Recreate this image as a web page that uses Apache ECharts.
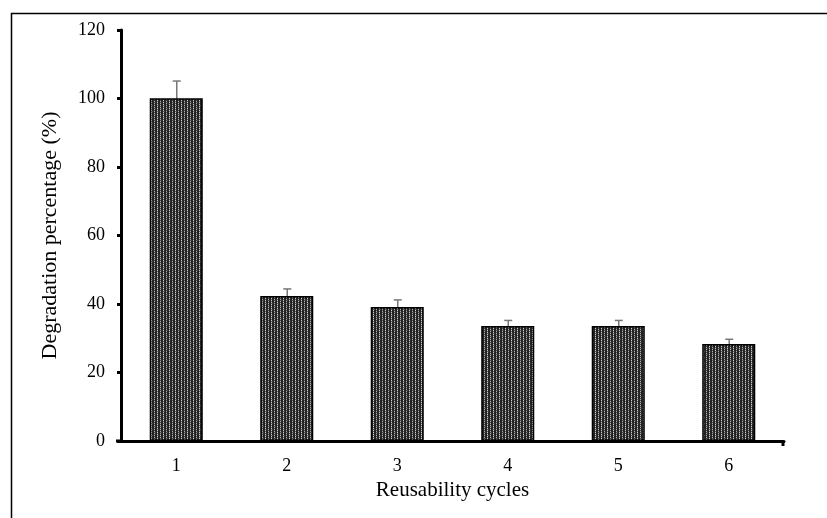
<!DOCTYPE html>
<html>
<head>
<meta charset="utf-8">
<script src="https://cdn.jsdelivr.net/npm/echarts@6/dist/echarts.min.js"></script>
<style>html,body{margin:0;padding:0;background:#fff}#c{width:827px;height:518px}</style>
</head>
<body>
<div id="c"></div>
<script>
var categories = ['1', '2', '3', '4', '5', '6'];
var values = [100.1, 42.3, 39.1, 33.6, 33.6, 28.3];
var errors = [5.0, 2.1, 2.1, 1.6, 1.6, 1.4];
var yTicks = [0, 20, 40, 60, 80, 100, 120];

function makePattern() {
  var c = document.createElement('canvas');
  c.width = 6; c.height = 6;
  var g = c.getContext('2d');
  g.fillStyle = '#222';
  g.fillRect(0, 0, 6, 6);
  for (var y = 0; y < 6; y++) {
    g.fillStyle = (y % 2 === 0) ? '#cfcfcf' : '#5a5a5a';
    g.fillRect(1, y, 1, 1);
    g.fillStyle = (y % 2 === 1) ? '#b0b0b0' : '#4a4a4a';
    g.fillRect(4, y, 1, 1);
  }
  g.fillStyle = '#444';
  g.fillRect(2, 3, 1, 1);
  g.fillRect(5, 0, 1, 1);
  return c;
}

var chart = echarts.init(document.getElementById('c'));
var font = 'Liberation Serif';
chart.setOption({
  animation: false,
  grid: { left: 121, right: 43, top: 30, bottom: 77 },
  xAxis: {
    type: 'category',
    data: categories,
    name: 'Reusability cycles',
    nameLocation: 'middle',
    nameGap: 39,
    nameTextStyle: { fontFamily: font, fontSize: 21, color: '#000' },
    axisLine: { lineStyle: { color: '#000', width: 3 } },
    axisTick: { alignWithLabel: true, length: 4, lineStyle: { color: '#000', width: 3 } },
    axisLabel: { fontFamily: font, fontSize: 18, color: '#000', margin: 16 }
  },
  yAxis: {
    type: 'value',
    min: yTicks[0],
    max: yTicks[yTicks.length - 1],
    interval: 20,
    name: 'Degradation percentage (%)',
    nameLocation: 'middle',
    nameGap: 60,
    nameTextStyle: { fontFamily: font, fontSize: 22, color: '#000' },
    axisLine: { show: true, lineStyle: { color: '#000', width: 3 } },
    axisTick: { show: true, length: 4, lineStyle: { color: '#000', width: 3 } },
    axisLabel: { fontFamily: font, fontSize: 18, color: '#000', margin: 16 },
    splitLine: { show: false }
  },
  series: [
    {
      type: 'bar',
      data: values,
      barWidth: '48%',
      itemStyle: {
        color: { image: makePattern(), repeat: 'repeat' },
        borderColor: '#000',
        borderWidth: 1.5
      }
    },
    {
      type: 'custom',
      data: values.map(function (v, i) { return [i, v, v + errors[i]]; }),
      renderItem: function (params, api) {
        var lo = api.coord([api.value(0), api.value(1) - errors[params.dataIndex]]);
        var hi = api.coord([api.value(0), api.value(2)]);
        var x = hi[0] + 0.5;
        var st = { stroke: '#777', lineWidth: 1.5 };
        return {
          type: 'group',
          children: [
            { type: 'line', shape: { x1: x, y1: lo[1], x2: x, y2: hi[1] }, style: st },
            { type: 'line', shape: { x1: x - 4, y1: hi[1], x2: x + 4, y2: hi[1] }, style: st }
          ]
        };
      },
      z: 1
    }
  ],
  graphic: [
    { type: 'polyline', shape: { points: [[11.5, 530], [11.5, 13.5], [840, 13.5]] }, style: { stroke: '#000', lineWidth: 1.5, fill: null } },
    { type: 'line', shape: { x1: 783, y1: 441, x2: 783, y2: 446 }, style: { stroke: '#000', lineWidth: 3 } },
    { type: 'line', shape: { x1: 116, y1: 441, x2: 122, y2: 441 }, style: { stroke: '#000', lineWidth: 3 } }
  ]
});
</script>
</body>
</html>
